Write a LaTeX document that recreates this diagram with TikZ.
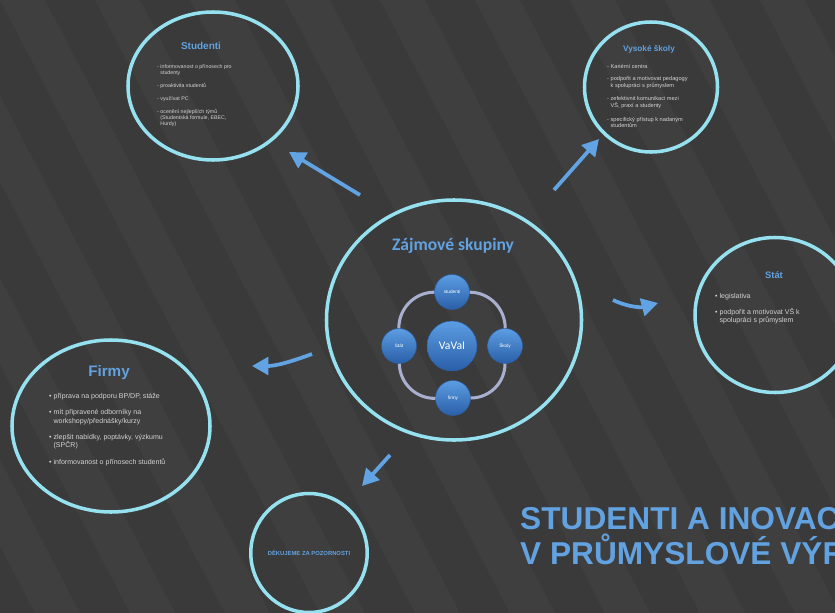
\documentclass[tikz,border=0pt]{standalone}
\usepackage{fontspec}
\setmainfont{Liberation Sans}
\newfontfamily\calfont{Carlito}
\usetikzlibrary{arrows.meta,shapes.geometric}

\definecolor{bgdark}{HTML}{3A3A3A}
\definecolor{bgband}{HTML}{3F3F3F}
\definecolor{ringcyan}{HTML}{95E1EF}
\definecolor{titleblue}{HTML}{62A2E0}
\definecolor{arrowblue}{HTML}{62A3E3}
\definecolor{bodygray}{HTML}{D4D4D4}
\definecolor{balltop}{HTML}{5C9DE2}
\definecolor{ballbot}{HTML}{2A5FA8}
\definecolor{ringgray}{HTML}{A9AFCF}

\begin{document}
\begin{tikzpicture}[x=0.03cm,y=-0.03cm,
  group/.style={ellipse,draw=ringcyan,line width=3pt,inner sep=0pt},
  head/.style={text=titleblue,font=\bfseries},
  body/.style={text=bodygray,align=left,anchor=north west,inner sep=0pt},
  ball/.style={circle,draw=ballbot,top color=balltop,bottom color=ballbot,text=white,inner sep=0pt,minimum size=1.05cm,font=\fontsize{4}{5}\selectfont},
  link/.style={draw=ringgray,line width=2.6pt},
  jump/.style={draw=arrowblue,line width=3.2pt,-{Triangle[length=14pt,width=15pt]}}]

  \useasboundingbox (0,0) rectangle (835,613);
  \clip (0,0) rectangle (835,613);
  \fill[bgdark] (0,0) rectangle (835,613);
  \foreach \k in {-6,...,10}
    \fill[bgband] (\k*95,0) -- ++(45,0) -- ++(320,613) -- ++(-45,0) -- cycle;

  % outer groups
  \node[group,minimum width=7.65cm,minimum height=7.2cm] (zajmy) at (454,320) {};
  \node[group,minimum width=5.1cm,minimum height=4.44cm] (studenti) at (213,86) {};
  \node[group,minimum width=3.99cm,minimum height=3.9cm] (skoly) at (651,87) {};
  \node[group,minimum width=4.8cm,minimum height=4.65cm] (stat) at (775,315) {};
  \node[group,minimum width=5.94cm,minimum height=5.16cm] (firmy) at (111,426) {};
  \node[group,minimum width=3.24cm,minimum height=3.57cm,text=titleblue,font=\bfseries\fontsize{5}{6}\selectfont] (dekujeme) at (309,553) {DĚKUJEME ZA POZORNOSTI};

  % titles
  \node[head,font=\calfont\bfseries\fontsize{15}{18}\selectfont] (zajmytitle) at (453,246) {Zájmové skupiny};
  \node[head,font=\bfseries\fontsize{8.5}{10}\selectfont] (studentititle) at (201,46) {Studenti};
  \node[head,font=\bfseries\fontsize{7}{8}\selectfont] (skolytitle) at (649,49) {Vysoké školy};
  \node[head,font=\bfseries\fontsize{8}{9}\selectfont] (stattitle) at (774,275) {Stát};
  \node[head,font=\bfseries\fontsize{13}{15}\selectfont] (firmytitle) at (109,373) {Firmy};

  % texts
  \node[body,font=\fontsize{4.5}{5.2}\selectfont] (studentitext) at (157,64)
    {- informovanost o přínosech pro\\\phantom{- }studenty\\[6pt]- proaktivita studentů\\[6pt]- využívat PC\\[6pt]- ocenění nejlepších týmů\\\phantom{- }(Studentská formule, EBEC,\\\phantom{- }Hurdy)};
  \node[body,font=\fontsize{4.8}{5.6}\selectfont] (skolytext) at (607,64)
    {- Kariérní centra\\[5pt]- podpořit a motivovat pedagogy\\\phantom{- }k spolupráci s průmyslem\\[6pt]- zefektivnit komunikaci mezi\\\phantom{- }VŠ, praxí a studenty\\[6pt]- specifický přístup k nadaným\\\phantom{- }studentům};
  \node[body,font=\fontsize{6}{7}\selectfont] (stattext) at (715,293)
    {•\ legislativa\\[7pt]•\ podpořit a motivovat VŠ k\\\phantom{•\ }spolupráci s průmyslem};
  \node[body,font=\fontsize{6}{7}\selectfont] (firmytext) at (49,393)
    {•\ příprava na podporu BP/DP, stáže\\[7pt]•\ mít připravené odborníky na\\\phantom{•\ }workshopy/přednášky/kurzy\\[7pt]•\ zlepšit nabídky, poptávky, výzkumu\\\phantom{•\ }(SPČR)\\[7pt]•\ informovanost o přínosech studentů};

  \node[anchor=west,align=left,inner sep=0pt,text=titleblue,font=\bfseries\fontsize{27}{30}\selectfont] (nazev) at (520,536)
    {STUDENTI A INOVACE\\V PRŮMYSLOVÉ VÝROBĚ};

  % inner diagram
  \node[ball,minimum size=1.5cm,font=\calfont\fontsize{10}{12}\selectfont] (vaval) at (452,346) {VaVaI};
  \node[ball] (vstudenti) at (452,292) {studenti};
  \node[ball] (vskoly) at (505,346) {Školy};
  \node[ball] (vfirmy) at (453,398) {firmy};
  \node[ball] (vstat) at (399,346) {Stát};

  \draw[link] (vstudenti) to[bend left=45] (vskoly)
              (vskoly) to[bend left=45] (vfirmy)
              (vfirmy) to[bend left=45] (vstat)
              (vstat) to[bend left=45] (vstudenti);

  % arrows
  \coordinate (t1) at (360,195); \coordinate (h1) at (289,152);
  \coordinate (t2) at (554,190); \coordinate (h2) at (599,139);
  \coordinate (t3) at (613,300); \coordinate (h3) at (658,303);
  \coordinate (t4) at (312,354); \coordinate (h4) at (252,366);
  \coordinate (t5) at (390,455); \coordinate (h5) at (362,486);

  \draw[jump] (t1) -- (h1);
  \draw[jump] (t2) -- (h2);
  \draw[jump] (t3) to[out=-25,in=195] (h3);
  \draw[jump] (t4) to[out=200,in=0] (h4);
  \draw[jump] (t5) -- (h5);
\end{tikzpicture}
\end{document}
